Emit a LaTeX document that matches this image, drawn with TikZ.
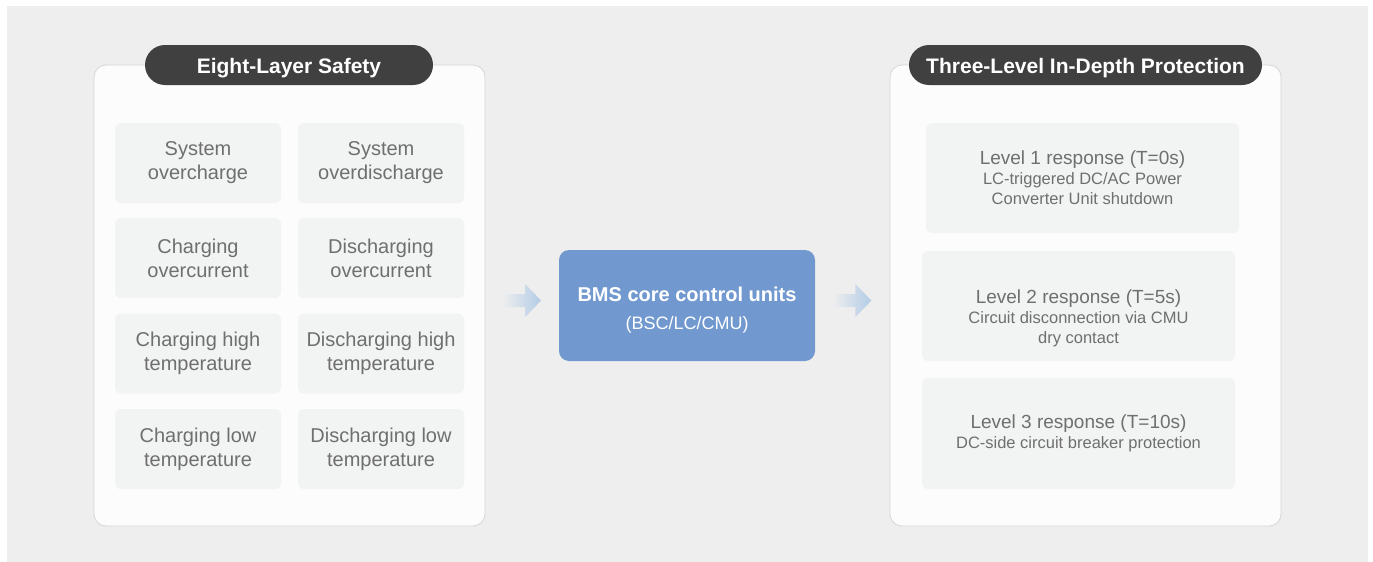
\documentclass[tikz,border=0pt]{standalone}
\usepackage{fontspec}
\setmainfont{Liberation Sans}
\usetikzlibrary{positioning,calc}
\definecolor{bgGray}{HTML}{EEEEEE}
\definecolor{panelFill}{HTML}{FCFCFC}
\definecolor{panelLine}{HTML}{D6D6D6}
\definecolor{pillGray}{HTML}{404040}
\definecolor{cellFill}{HTML}{F2F3F3}
\definecolor{cellText}{HTML}{6F6F6F}
\definecolor{coreBlue}{HTML}{7199CF}
\definecolor{arrowBlue}{HTML}{B3CCE6}
\newcommand\lvlsub{\fontsize{16.5}{18.5}\selectfont}

\begin{document}
\begin{tikzpicture}
  [x=1pt,y=-1pt,
   panelN/.style={draw=panelLine,fill=panelFill,line width=0.8pt,rounded corners=12pt,
     minimum width=391pt,minimum height=461pt,inner sep=0pt},
   pillN/.style={fill=pillGray,rounded corners=20pt,minimum height=40pt,inner sep=0pt,
     text height=17pt,text depth=0pt,
     text=white,font=\fontsize{21}{24}\selectfont\bfseries},
   cellN/.style={fill=cellFill,rounded corners=6pt,minimum width=166pt,minimum height=80pt,
     inner sep=0pt,text=cellText,align=center,font=\fontsize{20}{24}\selectfont},
   levelN/.style={fill=cellFill,rounded corners=6pt,minimum width=313pt,minimum height=110pt,
     inner sep=0pt,text=cellText,align=center,font=\fontsize{19}{20}\selectfont},
   coreN/.style={fill=coreBlue,rounded corners=10pt,minimum width=256pt,minimum height=111pt,
     inner sep=0pt,text=white,align=center}]

  \useasboundingbox (0,0) rectangle (1373,562);
  \fill[bgGray] (7,6) rectangle (1368,562);

  % two panels with title pills
  \node[panelN] (lp) at (289.5,295.5) {};
  \node[panelN] (rp) at (1085.5,295.5) {};
  \node[pillN,minimum width=288pt] (lt) at (289,65) {Eight-Layer Safety};
  \node[pillN,minimum width=353pt] (rt) at (1085.5,65) {Three-Level In-Depth Protection};

  % eight safety layers
  \node[cellN] (c11) at (198,163)   {System\\overcharge};
  \node[cellN] (c12) at (381,163)   {System\\overdischarge};
  \node[cellN] (c21) at (198,258)   {Charging\\overcurrent};
  \node[cellN] (c22) at (381,258)   {Discharging\\overcurrent};
  \node[cellN] (c31) at (198,353.5) {Charging high\\temperature};
  \node[cellN] (c32) at (381,353.5) {Discharging high\\temperature};
  \node[cellN] (c41) at (198,449)   {Charging low\\temperature};
  \node[cellN] (c42) at (381,449)   {Discharging low\\temperature};

  % core
  \node[coreN] (core) at (687,305.5)
    {\rule{0pt}{24pt}{\fontsize{20}{24}\selectfont\bfseries BMS core control units}\\[13.5pt]
     {\fontsize{18}{20}\selectfont (BSC/LC/CMU)}};

  % three levels
  \node[levelN] (l1) at (1082.5,178)
    {Level 1 response (T=0s)\\\lvlsub LC-triggered DC/AC Power\\\lvlsub Converter Unit shutdown};
  \node[levelN] (l2) at (1078.5,306)
    {\rule{0pt}{39pt}Level 2 response (T=5s)\\\lvlsub Circuit disconnection via CMU\\\lvlsub dry contact};
  \node[levelN,minimum height=111pt] (l3) at (1078.5,433.5)
    {Level 3 response (T=10s)\\\lvlsub DC-side circuit breaker protection};

  % arrows
  \coordinate (a1) at ($(lp.east)!0.5!(core.west)$);
  \coordinate (a2) at ($(core.east)!0.5!(rp.west)$);
  \foreach \a in {a1,a2}
    \shade[left color=bgGray,right color=arrowBlue]
      ($(\a)+(-20,-6.5)$) -- ++(23,0) -- ++(0,-10) -- ++(16,16.5)
      -- ++(-16,16.5) -- ++(0,-10) -- ++(-23,0) -- cycle;

\end{tikzpicture}
\end{document}
